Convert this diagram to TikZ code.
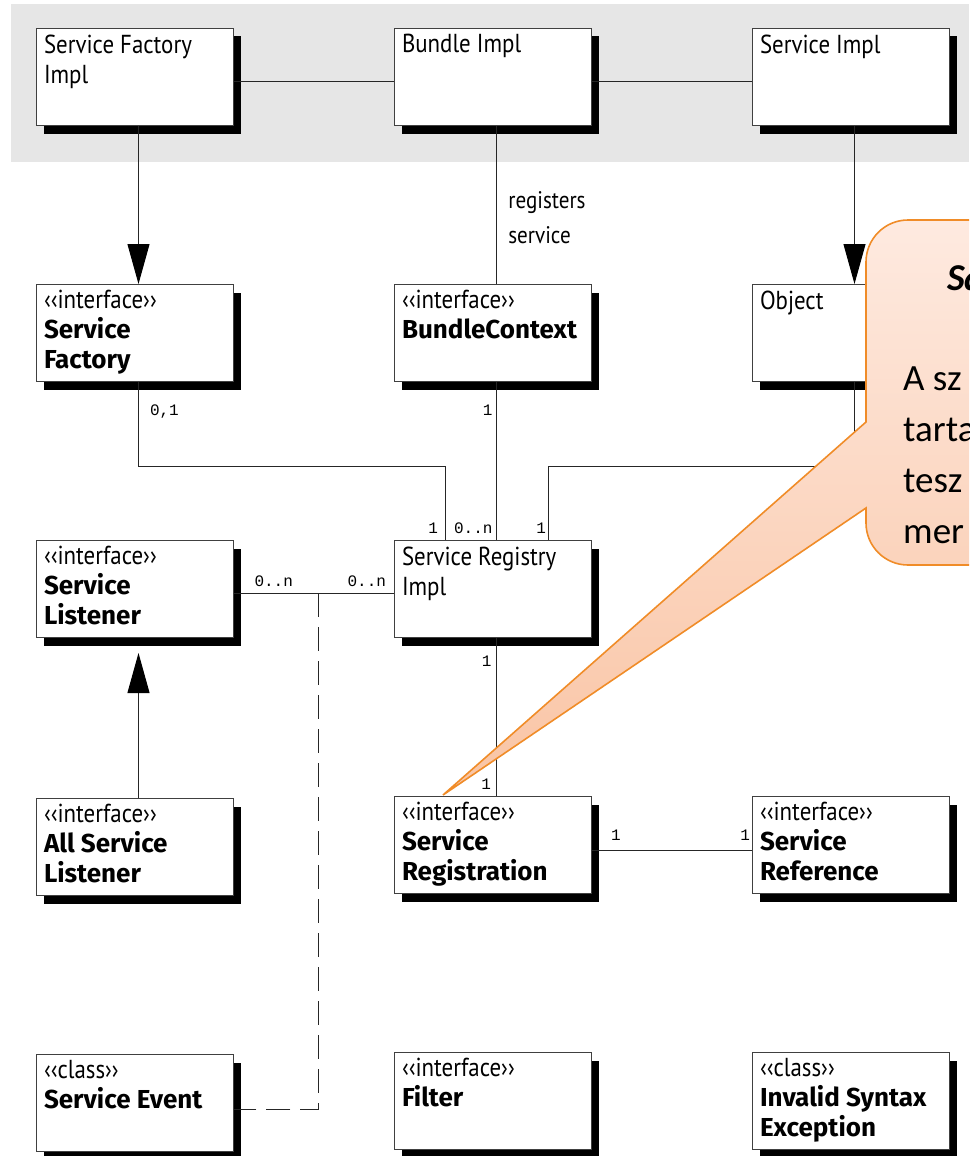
\documentclass[tikz,border=0pt]{standalone}
\usepackage{fontspec}
\usepackage{tikz}
\usetikzlibrary{positioning, arrows.meta, calc, shadows}
\newfontfamily\umlreg[FakeStretch=0.88]{PT Sans}
\newfontfamily\umlbold{Fira Sans}
\newfontfamily\numfont{Liberation Mono}
\newfontfamily\notefont{Carlito}
\definecolor{bandgray}{RGB}{230,230,230}
\definecolor{noteline}{RGB}{240,140,40}
\definecolor{notetop}{RGB}{254,234,224}
\definecolor{notebot}{RGB}{249,196,164}
\tikzstyle{umlbox} = [rectangle, draw=black!75, line width=1pt, fill=white, minimum width=197pt, minimum height=97pt, inner sep=0pt, general shadow={fill=black, shadow xshift=8pt, shadow yshift=-8pt}]
\tikzstyle{link} = [draw=black!85, line width=1pt]
\tikzstyle{arrow} = [link, -{Triangle[length=40pt, width=22pt, color=black]}]
\tikzstyle{mult} = [font=\fontsize{16}{16}\selectfont\numfont, inner sep=2pt]
\tikzstyle{note} = [draw=noteline, line width=1.6pt, top color=notetop, bottom color=notebot]
\newcommand{\implbox}[1]{\parbox[c][85pt][t]{181pt}{\fontsize{26}{30}\selectfont\umlreg #1}}
\newcommand{\typebox}[2]{\parbox[c][85pt][t]{181pt}{\fontsize{26}{30}\selectfont\umlreg #1\\\umlbold\bfseries #2}}
\begin{document}
\begin{tikzpicture}[node distance=256pt, x=1pt, y=1pt]
\useasboundingbox (0,0) rectangle (969,-1156);
\clip (0,0) rectangle (969,-1156);
%grauer Hintergrund
\fill [bandgray] (11,-4) rectangle (969,-162);

%Klassen
\node (sfi) [umlbox] at (134.5,-77) {\implbox{Service Factory\\Impl}};
\node (bi) [umlbox, right of=sfi, xshift=102pt] {\implbox{Bundle Impl}};
\node (si) [umlbox, right of=bi, xshift=102pt] {\implbox{Service Impl}};
\node (sf) [umlbox, below of=sfi] {\typebox{‹‹interface››}{Service\\Factory}};
\node (bc) [umlbox, below of=bi] {\typebox{‹‹interface››}{BundleContext}};
\node (obj) [umlbox, below of=si] {\implbox{Object}};
\node (sl) [umlbox, below of=sf] {\typebox{‹‹interface››}{Service\\Listener}};
\node (sri) [umlbox, below of=bc] {\implbox{Service Registry\\Impl}};
\node (asl) [umlbox, below of=sl, yshift=-2pt] {\typebox{‹‹interface››}{All Service\\Listener}};
\node (sreg) [umlbox, below of=sri] {\typebox{‹‹interface››}{Service\\Registration}};
\node (sref) [umlbox, right of=sreg, xshift=102pt] {\typebox{‹‹interface››}{Service\\Reference}};
\node (se) [umlbox, below of=asl] {\typebox{‹‹class››}{Service Event}};
\node (flt) [umlbox, below of=sreg] {\typebox{‹‹interface››}{Filter}};
\node (ise) [umlbox, right of=flt, xshift=102pt] {\typebox{‹‹class››}{Invalid Syntax\\Exception}};

%Hilfspunkte
\coordinate (bus) at (0,-466);
\coordinate (sriL) at ([xshift=-47pt]sri.north);
\coordinate (sriM) at ([xshift=4pt]sri.north);
\coordinate (sriR) at ([xshift=56pt]sri.north);
\coordinate (evt) at ($([yshift=-4pt]sl.east)!0.53!([yshift=-4pt]sri.west)$);

%Verbindungen
\draw [link] ([yshift=-4pt]sfi.east) -- ([yshift=-4pt]bi.west);
\draw [link] ([yshift=-4pt]bi.east) -- ([yshift=-4pt]si.west);
\draw [arrow] ([xshift=4pt]sfi.south) -- ([xshift=4pt]sf.north);
\draw [arrow] ([xshift=4pt]si.south) -- ([xshift=4pt]obj.north);
\draw [link] ([xshift=4pt]bi.south) -- node[pos=0.58, anchor=west, xshift=8pt, align=left, font=\fontsize{24}{35}\selectfont\umlreg] {registers\\service} ([xshift=4pt]bc.north);
\draw [link] ([xshift=4pt]sf.south) node[mult, anchor=north west, xshift=9pt, yshift=-20pt] {0,1} |- (sriL |- bus) -- (sriL) node[mult, anchor=south east, xshift=-5pt, yshift=4pt] {1};
\draw [link] ([xshift=4pt]bc.south) node[mult, anchor=north east, xshift=-1.5pt, yshift=-20pt] {1} -- (sriM) node[mult, anchor=south east, xshift=-1.5pt, yshift=4pt] {0..n};
\draw [link] ([xshift=4pt]obj.south) |- (sriR |- bus) -- (sriR) node[mult, anchor=south east, yshift=4pt] {1};
\draw [link] ([yshift=-4pt]sl.east) node[mult, anchor=south west, xshift=18.5pt, yshift=4pt] {0..n} -- ([yshift=-4pt]sri.west) node[mult, anchor=south east, xshift=-5pt, yshift=4pt] {0..n};
\draw [link, dash pattern=on 24pt off 10pt] (evt) |- ([yshift=-6pt]se.east);
\draw [arrow] ([xshift=4pt]asl.north) -- ([xshift=4pt, yshift=-15pt]sl.south);
\draw [link] ([xshift=4pt]sri.south) node[mult, anchor=north east, xshift=-2.5pt, yshift=-15pt] {1} -- ([xshift=4pt]sreg.north) node[mult, anchor=south east, xshift=-3pt, yshift=4pt] {1};
\draw [link] ([yshift=-5pt]sreg.east) node[mult, anchor=south west, xshift=17pt, yshift=7pt] {1} -- ([yshift=-5pt]sref.west) node[mult, anchor=south east, xshift=1pt, yshift=7pt] {1};

%Sprechblase
\draw [note] (866,-422) -- (866,-262) arc[start angle=180, end angle=90, radius=42pt] -- (1200,-220) -- (1200,-565) -- (908,-565) arc[start angle=270, end angle=180, radius=42pt] -- (866,-508) -- (443,-795) -- cycle;
\node (ttl) [anchor=base west, inner sep=0pt, font=\fontsize{38}{46}\selectfont\notefont\bfseries\itshape] at (947,-290) {Sa};
\node (txt) [anchor=north west, align=left, inner sep=0pt, font=\fontsize{37}{50.7}\selectfont\notefont] at (903,-367) {A sz\\tarta\\tesz\\mer};
\end{tikzpicture}
\end{document}
